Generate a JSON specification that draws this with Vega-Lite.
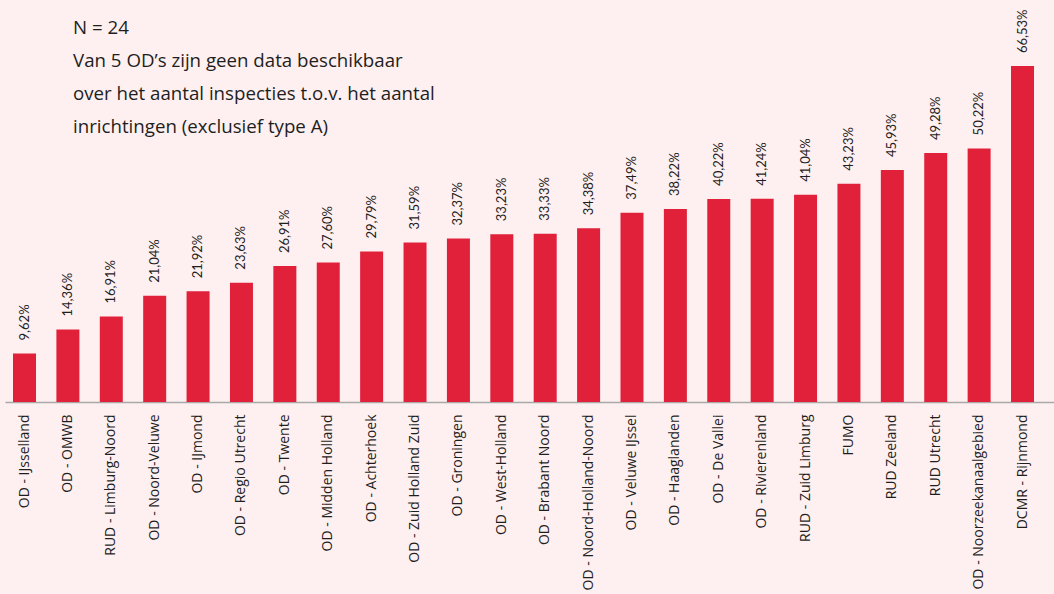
{
  "$schema": "https://vega.github.io/schema/vega-lite/v6.json",
  "width": 1049,
  "height": 402,
  "autosize": {"type": "none"},
  "padding": {"left": 5, "top": 0, "right": 0, "bottom": 192},
  "background": "#fef0f0",
  "title": {
    "text": ["N = 24", "Van 5 OD’s zijn geen data beschikbaar", "over het aantal inspecties t.o.v. het aantal", "inrichtingen (exclusief type A)"],
    "anchor": "start",
    "frame": "group",
    "orient": "top",
    "baseline": "top",
    "offset": -137,
    "dx": 68,
    "font": "Open Sans",
    "fontSize": 18.7,
    "fontWeight": "normal",
    "lineHeight": 33,
    "color": "#1e1e1e"
  },
  "config": {"view": {"stroke": null}},
  "data": {
    "values": [
      {"org": "OD - IJsselland", "pct": 9.62, "label": "9,62%"},
      {"org": "OD - OMWB", "pct": 14.36, "label": "14,36%"},
      {"org": "RUD - Limburg-Noord", "pct": 16.91, "label": "16,91%"},
      {"org": "OD - Noord-Veluwe", "pct": 21.04, "label": "21,04%"},
      {"org": "OD - IJmond", "pct": 21.92, "label": "21,92%"},
      {"org": "OD - Regio Utrecht", "pct": 23.63, "label": "23,63%"},
      {"org": "OD - Twente", "pct": 26.91, "label": "26,91%"},
      {"org": "OD - Midden Holland", "pct": 27.60, "label": "27,60%"},
      {"org": "OD - Achterhoek", "pct": 29.79, "label": "29,79%"},
      {"org": "OD - Zuid Holland Zuid", "pct": 31.59, "label": "31,59%"},
      {"org": "OD - Groningen", "pct": 32.37, "label": "32,37%"},
      {"org": "OD - West-Holland", "pct": 33.23, "label": "33,23%"},
      {"org": "OD - Brabant Noord", "pct": 33.33, "label": "33,33%"},
      {"org": "OD - Noord-Holland-Noord", "pct": 34.38, "label": "34,38%"},
      {"org": "OD - Veluwe IJssel", "pct": 37.49, "label": "37,49%"},
      {"org": "OD - Haaglanden", "pct": 38.22, "label": "38,22%"},
      {"org": "OD - De Vallei", "pct": 40.22, "label": "40,22%"},
      {"org": "OD - Rivierenland", "pct": 40.24, "label": "41,24%"},
      {"org": "RUD - Zuid Limburg", "pct": 41.04, "label": "41,04%"},
      {"org": "FUMO", "pct": 43.23, "label": "43,23%"},
      {"org": "RUD Zeeland", "pct": 45.93, "label": "45,93%"},
      {"org": "RUD Utrecht", "pct": 49.28, "label": "49,28%"},
      {"org": "OD - Noorzeekanaalgebied", "pct": 50.22, "label": "50,22%"},
      {"org": "DCMR - Rijnmond", "pct": 66.53, "label": "66,53%"}
    ]
  },
  "encoding": {
    "x": {
      "field": "org",
      "type": "nominal",
      "sort": null,
      "title": null,
      "scale": {"paddingInner": 0.47, "paddingOuter": 0.3226, "align": 0.286},
      "axis": {
        "labelAngle": -90,
        "labelFont": "Open Sans",
        "labelFontSize": 14,
        "labelColor": "#1e1e1e",
        "labelPadding": 12,
        "ticks": false,
        "domainColor": "#a8a8a8",
        "domainWidth": 1.5,
        "labelLimit": 200
      }
    },
    "y": {
      "field": "pct",
      "type": "quantitative",
      "scale": {"domain": [0, 79.6], "nice": false},
      "axis": null
    }
  },
  "layer": [
    {"mark": {"type": "bar", "color": "#e1203a"}},
    {
      "mark": {"type": "text", "angle": -90, "align": "left", "baseline": "middle", "dx": 13, "font": "Lato", "fontSize": 13, "color": "#1e1e1e"},
      "encoding": {"text": {"field": "label"}}
    }
  ]
}
